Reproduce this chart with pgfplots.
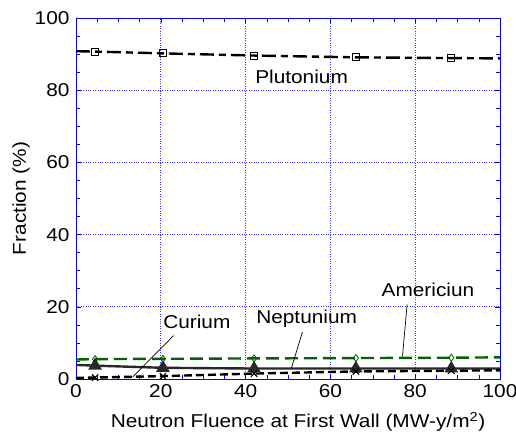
\documentclass[border=0pt]{standalone}
\usepackage{fontspec}
\setmainfont[FakeStretch=1.12]{Liberation Sans}
\usepackage{pgfplots}
\pgfplotsset{compat=1.18}
\definecolor{amgreen}{RGB}{0,100,0}
\definecolor{cmgray}{RGB}{40,40,40}
\newcommand{\chartfont}{\fontsize{18.6}{22}\selectfont}
\begin{document}
\begin{tikzpicture}
\begin{axis}[
    name=main,
    scale only axis,
    width=424pt, height=361pt,
    xmin=0, xmax=100, ymin=0, ymax=100,
    xtick={0,20,...,100}, ytick={0,20,...,100},
    minor tick num=3,
    tick align=inside,
    major tick length=5pt, minor tick length=4pt,
    axis line style={blue, line width=0.8pt},
    every tick/.style={blue, line width=0.6pt},
    grid=major,
    major grid style={blue!80, dotted, line width=0.8pt},
    tick label style={font=\chartfont, black},
    /pgf/number format/assume math mode=true,
    xticklabel style={yshift=-2pt},
    yticklabel style={xshift=-3pt},
    label style={font=\chartfont},
    xlabel={Neutron Fluence at First Wall (MW-y/m\textsuperscript{2})},
    ylabel={Fraction (\%)},
    xlabel style={yshift=-8pt, xshift=10pt},
    ylabel style={yshift=-2pt},
    clip=false,
]
% Plutonium
\addplot[black, line width=2.4pt, dash pattern=on 14pt off 5pt on 7pt off 5pt,
  mark=square, mark size=3.5pt, mark options={solid, fill=white, line width=0.8pt},
  mark indices={2,3,4,5,6}]
  coordinates {(0,90.8) (4.5,90.7) (20.5,90.2) (42,89.6) (66,89.1) (88.5,88.9) (100,88.8)};
% Americium
\addplot[amgreen, line width=2.4pt, dash pattern=on 13pt off 6pt,
  mark=diamond, mark size=3.5pt, mark options={solid, fill=white, line width=0.8pt},
  mark indices={2,3,4,5,6}]
  coordinates {(0,5.4) (4.5,5.5) (20.5,5.6) (42,5.7) (66,5.8) (88.5,5.9) (100,6.0)};
% Neptunium
\addplot[cmgray, line width=2.4pt,
  mark=triangle*, mark size=5.5pt, mark options={solid, fill=cmgray, draw=cmgray},
  mark indices={2,3,4,5,6}]
  coordinates {(0,3.9) (4.5,3.7) (20.5,3.1) (42,2.9) (66,2.9) (88.5,2.9) (100,2.9)};
% Curium
\addplot[black, line width=2.4pt, dash pattern=on 8pt off 4pt,
  mark=x, mark size=4.5pt, mark options={solid, line width=1.1pt},
  mark indices={2,3,4,5,6}]
  coordinates {(0,0.3) (4.5,0.4) (20.5,0.8) (42,1.5) (66,2.1) (88.5,2.3) (100,2.4)};
% labels
\node[font=\chartfont] at (axis cs:53.2,83.8) {Plutonium};
\node[font=\chartfont] at (axis cs:28.5,15.7) {Curium};
\node[font=\chartfont] at (axis cs:54.4,16.6) {Neptunium};
\node[font=\chartfont] at (axis cs:83,24.7) {Americiun};
\draw[black, line width=0.7pt] (axis cs:23,12) -- (axis cs:13.4,0.6);
\draw[black, line width=0.7pt] (axis cs:53.4,13) -- (axis cs:50.8,3.0);
\draw[black, line width=0.7pt] (axis cs:78.1,20.7) -- (axis cs:77,6.3);
\end{axis}
\pgfresetboundingbox
\path[use as bounding box] ([shift={(-76pt,-60pt)}]main.south west) rectangle ([shift={(16pt,18pt)}]main.north east);
\end{tikzpicture}
\end{document}
